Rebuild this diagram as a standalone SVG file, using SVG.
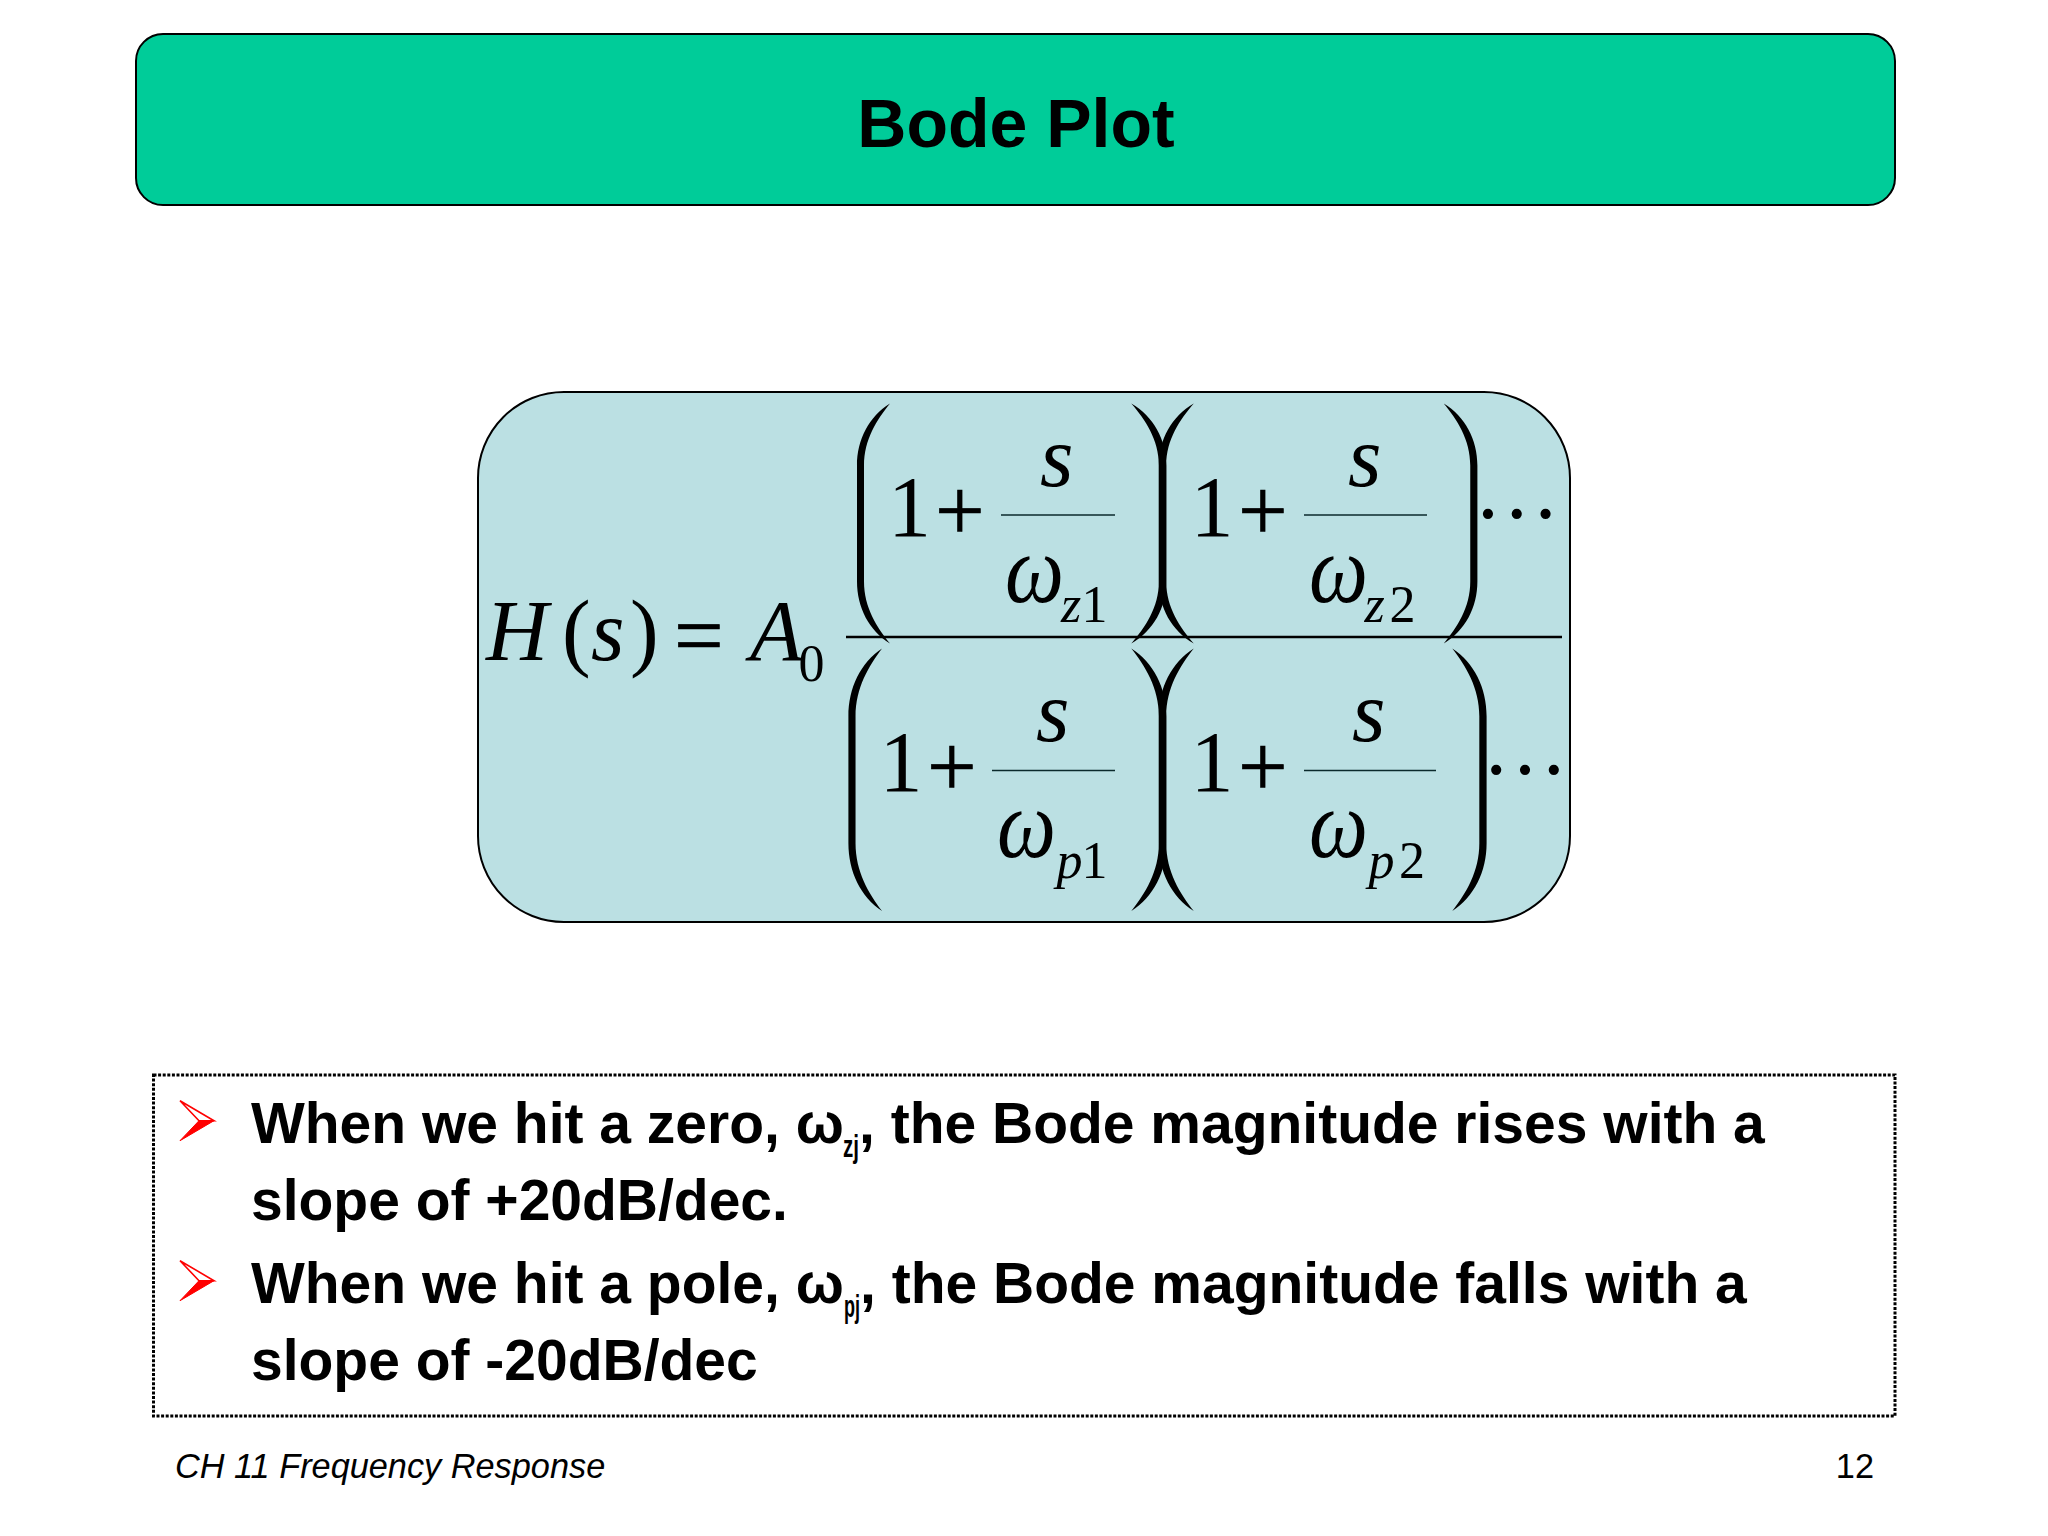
<svg xmlns="http://www.w3.org/2000/svg" xmlns:xlink="http://www.w3.org/1999/xlink" width="2048" height="1536" viewBox="0 0 2048 1536">
<style>
text{fill:#000}
.m{font-family:"Liberation Serif","Times New Roman",serif;font-size:86px}
.i{font-style:italic}
.s{font-size:52px}
.w{font-size:98px}
.p{font-size:88px;stroke:#000;stroke-width:.7}
.b{font-family:"Liberation Sans",Arial,sans-serif;font-weight:bold;font-size:57px}
.sub{font-family:"Liberation Sans",Arial,sans-serif;font-weight:bold;font-size:32px}
.f{font-family:"Liberation Sans",Arial,sans-serif;font-size:34.3px}
.rule{stroke:#0b2a2c;stroke-width:1.4}
</style>
<defs>
<path id="lp" d="M33,0C12,13 0,36 0,62V178C0,204 12,227 33,240C20,224 7,204 7,178V62C7,36 20,16 33,0Z" fill="#000"/>
<g id="bullet">
<path d="M0,-20L34,0L19,0Z" fill="#fff" stroke="#f00" stroke-width="1.6"/>
<path d="M0,20L34,0L19,0Z" fill="#f00" stroke="#f00" stroke-width="1"/>
</g>
</defs>
<rect width="2048" height="1536" fill="#fff"/>

<g id="title">
<rect x="136" y="34" width="1759" height="171" rx="27" fill="#00cc99" stroke="#000" stroke-width="2"/>
<text x="1016" y="147" text-anchor="middle" font-family="'Liberation Sans',Arial,sans-serif" font-weight="bold" font-size="68">Bode Plot</text>
</g>

<g id="formula">
<rect x="478" y="392" width="1092" height="530" rx="86" fill="#bbe0e3" stroke="#000" stroke-width="2"/>
<text class="m i" x="486" y="660">H</text>
<text class="m" x="562" y="660">(</text>
<text class="m i" x="591" y="660">s</text>
<text class="m" x="630" y="660">)</text>
<text class="m p" x="674" y="665">=</text>
<text class="m i" x="750" y="660">A</text>
<text class="m s" x="798.5" y="681">0</text>
<line x1="846" y1="637" x2="1562" y2="637" stroke="#000" stroke-width="2.4"/>

<use xlink:href="#lp" href="#lp" transform="translate(857,403.6)"/>
<use xlink:href="#lp" href="#lp" transform="translate(1166.3,403.6) scale(-1.06,1)"/>
<use xlink:href="#lp" href="#lp" transform="translate(1158.8,403.6) scale(1.06,1)"/>
<use xlink:href="#lp" href="#lp" transform="translate(1477.4,403.6) scale(-1.02,1)"/>
<use xlink:href="#lp" href="#lp" transform="translate(848.4,648.4) scale(1.02,1.094)"/>
<use xlink:href="#lp" href="#lp" transform="translate(1166.3,648.4) scale(-1.06,1.094)"/>
<use xlink:href="#lp" href="#lp" transform="translate(1158.8,648.4) scale(1.06,1.094)"/>
<use xlink:href="#lp" href="#lp" transform="translate(1486.6,648.4) scale(-1.04,1.094)"/>

<text class="m" x="888" y="535.6">1</text>
<text class="m p" x="935" y="540">+</text>
<text class="m i" x="1040" y="485.5">s</text>
<line class="rule" x1="1001" y1="515" x2="1115" y2="515"/>
<text class="m i w" x="1005" y="602" textLength="59" lengthAdjust="spacingAndGlyphs">ω</text>
<text class="m s i" x="1061" y="622">z</text>
<text class="m s" x="1081.5" y="622">1</text>

<text class="m" x="1190.5" y="535.6">1</text>
<text class="m p" x="1238" y="540">+</text>
<text class="m i" x="1348" y="485.5">s</text>
<line class="rule" x1="1304" y1="515" x2="1427" y2="515"/>
<text class="m i w" x="1309" y="602" textLength="59" lengthAdjust="spacingAndGlyphs">ω</text>
<text class="m s i" x="1364.5" y="622">z</text>
<text class="m s" x="1389.6" y="622">2</text>
<text class="m" x="1473.8" y="518.3">…</text>

<text class="m" x="879.5" y="791">1</text>
<text class="m p" x="927" y="795.5">+</text>
<text class="m i" x="1036" y="741">s</text>
<line class="rule" x1="992" y1="770.5" x2="1115" y2="770.5"/>
<text class="m i w" x="997" y="857" textLength="59" lengthAdjust="spacingAndGlyphs">ω</text>
<text class="m s i" x="1056.6" y="878">p</text>
<text class="m s" x="1081.5" y="878">1</text>

<text class="m" x="1190.5" y="791">1</text>
<text class="m p" x="1238" y="795.5">+</text>
<text class="m i" x="1352" y="741">s</text>
<line class="rule" x1="1304" y1="770.5" x2="1436" y2="770.5"/>
<text class="m i w" x="1309" y="857" textLength="59" lengthAdjust="spacingAndGlyphs">ω</text>
<text class="m s i" x="1368.6" y="878">p</text>
<text class="m s" x="1399" y="878">2</text>
<text class="m" x="1481.9" y="774">…</text>
</g>

<g id="notes">
<rect x="153.5" y="1075" width="1741.5" height="341" fill="none" stroke="#000" stroke-width="3" stroke-dasharray="3 1.6"/>
<use xlink:href="#bullet" href="#bullet" x="180" y="1120.7"/>
<use xlink:href="#bullet" href="#bullet" x="180" y="1280.7"/>
<text class="b" x="251" y="1143">When we hit a zero, ω</text>
<text class="sub" x="843" y="1157" textLength="16" lengthAdjust="spacingAndGlyphs">zj</text>
<text class="b" x="859" y="1143">, the Bode magnitude rises with a</text>
<text class="b" x="251" y="1219.5">slope of +20dB/dec.</text>
<text class="b" x="251" y="1303">When we hit a pole, ω</text>
<text class="sub" x="844" y="1317" textLength="16" lengthAdjust="spacingAndGlyphs">pj</text>
<text class="b" x="860" y="1303">, the Bode magnitude falls with a</text>
<text class="b" x="251" y="1380">slope of -20dB/dec</text>
</g>

<g id="footer">
<text class="f" x="175" y="1478" font-style="italic">CH 11 Frequency Response</text>
<text class="f" x="1874" y="1478" text-anchor="end">12</text>
</g>
</svg>
